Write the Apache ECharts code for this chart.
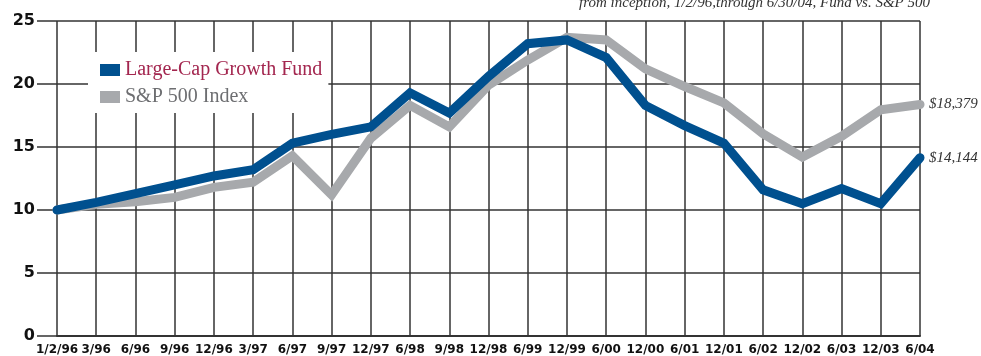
<!doctype html>
<html>
<head>
    <meta charset="UTF-8">
    <title>growth_of_10000</title>
    <script src="https://cdn.jsdelivr.net/npm/echarts@6/dist/echarts.min.js"></script>
    <style>
        html, body { margin: 0; padding: 0; background: #fff; }
        #main { width: 981px; height: 356px; }
    </style>
</head>
<body>
<div id="main"></div>
<script>
    // dates along the bottom
    var categories = ['1/2/96', '3/96', '6/96', '9/96', '12/96', '3/97', '6/97', '9/97', '12/97', '6/98',
        '9/98', '12/98', '6/99', '12/99', '6/00', '12/00', '6/01', '12/01', '6/02', '12/02', '6/03', '12/03', '6/04'];

    // value of $10,000, in thousands
    var fundValues = [10.0, 10.6, 11.3, 12.0, 12.7, 13.2, 15.3, 16.0, 16.6, 19.3,
        17.7, 20.6, 23.2, 23.5, 22.1, 18.3, 16.7, 15.3, 11.6, 10.5, 11.7, 10.5, 14.144];
    var indexValues = [10.0, 10.45, 10.65, 11.0, 11.8, 12.2, 14.3, 11.2, 15.7, 18.3,
        16.6, 19.9, 21.9, 23.7, 23.5, 21.2, 19.8, 18.5, 16.05, 14.2, 15.85, 17.95, 18.379];

    var seriesNames = ['Large-Cap Growth Fund', 'S&P 500 Index'];
    var endLabels = ['$14,144', '$18,379'];
    var yTicks = [0, 5, 10, 15, 20, 25];

    var gridColor = '#333';
    var chart = echarts.init(document.getElementById('main'));

    chart.setOption({
        animation: false,
        title: {
            text: 'from inception, 1/2/96,through 6/30/04, Fund vs. S&P 500',
            right: 46,
            top: -9,
            textStyle: {
                fontFamily: 'Liberation Serif',
                fontStyle: 'italic',
                fontWeight: 'normal',
                fontSize: 15,
                color: '#333'
            }
        },
        legend: {
            left: 88,
            top: 52,
            orient: 'vertical',
            backgroundColor: '#fff',
            padding: [8, 6, 6, 12],
            itemGap: 7,
            itemWidth: 20,
            itemHeight: 12,
            icon: 'rect',
            data: [
                {name: seriesNames[0], textStyle: {color: '#a3264f'}},
                {name: seriesNames[1], textStyle: {color: '#6d6e71'}}
            ],
            textStyle: {
                fontFamily: 'Liberation Serif',
                fontSize: 20,
                padding: [0, 6, 0, 0]
            }
        },
        grid: {left: 57, right: 61, top: 21, bottom: 20},
        xAxis: {
            type: 'category',
            data: categories,
            boundaryGap: false,
            axisLine: {lineStyle: {color: gridColor, width: 2}},
            axisTick: {show: false},
            axisLabel: {
                interval: 0,
                margin: 8,
                fontFamily: 'DejaVu Sans',
                fontWeight: 'bold',
                fontSize: 12,
                color: '#111'
            },
            splitLine: {show: true, interval: 0, lineStyle: {color: gridColor, width: 1.5}}
        },
        yAxis: {
            type: 'value',
            min: yTicks[0],
            max: yTicks[yTicks.length - 1],
            interval: 5,
            axisLine: {show: false},
            axisTick: {show: true, length: 20, lineStyle: {color: gridColor, width: 1.5}},
            axisLabel: {
                margin: 22,
                fontFamily: 'DejaVu Sans',
                fontWeight: 'bold',
                fontSize: 16,
                color: '#111'
            },
            splitLine: {show: true, lineStyle: {color: gridColor, width: 1.5}}
        },
        series: [
            {
                name: seriesNames[1],
                type: 'line',
                data: indexValues,
                symbol: 'none',
                z: 3,
                color: '#a7a9ac',
                lineStyle: {width: 9, cap: 'round', join: 'miter'},
                endLabel: {
                    show: true,
                    formatter: endLabels[1],
                    distance: 9,
                    fontFamily: 'Liberation Serif',
                    fontStyle: 'italic',
                    fontSize: 15,
                    color: '#333'
                }
            },
            {
                name: seriesNames[0],
                type: 'line',
                data: fundValues,
                symbol: 'none',
                z: 4,
                color: '#00508f',
                lineStyle: {width: 9, cap: 'round', join: 'miter'},
                endLabel: {
                    show: true,
                    formatter: endLabels[0],
                    distance: 9,
                    fontFamily: 'Liberation Serif',
                    fontStyle: 'italic',
                    fontSize: 15,
                    color: '#333'
                }
            }
        ]
    });
</script>
</body>
</html>
